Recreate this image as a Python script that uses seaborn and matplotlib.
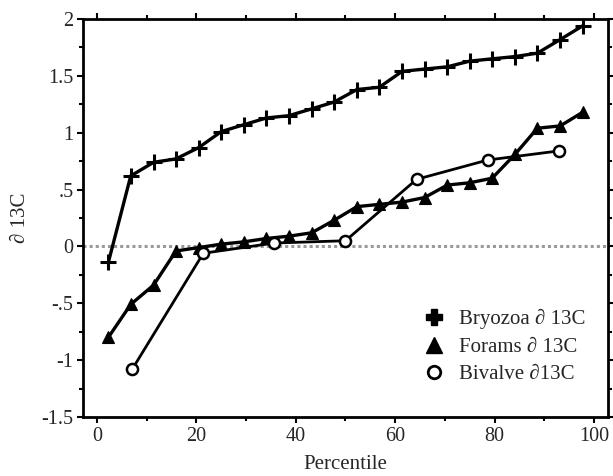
import matplotlib
matplotlib.use("Agg")
import matplotlib.pyplot as plt
import seaborn as sns
import pandas as pd
from matplotlib.lines import Line2D
from matplotlib.ticker import MultipleLocator

# ---- data ----
bryozoa_pct = [2.3, 6.8, 11.4, 15.9, 20.5, 25.0, 29.5, 34.1, 38.6, 43.2, 47.7,
               52.3, 56.8, 61.4, 65.9, 70.5, 75.0, 79.5, 84.1, 88.6, 93.2, 97.7]
bryozoa_d13c = [-0.14, 0.62, 0.74, 0.77, 0.87, 1.01, 1.07, 1.13, 1.15, 1.21, 1.27,
                1.38, 1.40, 1.54, 1.56, 1.58, 1.63, 1.65, 1.67, 1.70, 1.82, 1.94]

forams_pct = [2.3, 6.8, 11.4, 15.9, 20.5, 25.0, 29.5, 34.1, 38.6, 43.2, 47.7,
              52.3, 56.8, 61.4, 65.9, 70.5, 75.0, 79.5, 84.1, 88.6, 93.2, 97.7]
forams_d13c = [-0.80, -0.51, -0.34, -0.04, -0.01, 0.02, 0.04, 0.07, 0.09, 0.12, 0.23,
               0.35, 0.37, 0.39, 0.43, 0.54, 0.56, 0.60, 0.81, 1.04, 1.06, 1.18]

bivalve_pct = [7.1, 21.4, 35.7, 50.0, 64.3, 78.6, 92.9]
bivalve_d13c = [-1.08, -0.06, 0.03, 0.05, 0.59, 0.76, 0.84]

legend_labels = ["Bryozoa \u2202 13C", "Forams \u2202 13C", "Bivalve \u220213C"]

x_ticks = [0, 20, 40, 60, 80, 100]
y_ticks = [-1.5, -1, -0.5, 0, 0.5, 1, 1.5, 2]
y_ticklabels = ["-1.5", "-1", "-.5", "0", ".5", "1", "1.5", "2"]

# ---- style ----
sns.set_style("ticks")
plt.rcParams["font.family"] = ["Liberation Serif", "DejaVu Serif"]

fig = plt.figure(figsize=(6.13, 4.76), dpi=100)
ax = fig.add_axes([0.1354, 0.124, 0.8564, 0.836])

ax.axhline(0, color="#9a9a9a", lw=2.2, ls=(0, (1, 1)), zorder=1)

df_b = pd.DataFrame({"pct": bryozoa_pct, "d": bryozoa_d13c})
df_f = pd.DataFrame({"pct": forams_pct, "d": forams_d13c})
df_v = pd.DataFrame({"pct": bivalve_pct, "d": bivalve_d13c})

sns.lineplot(data=df_b, x="pct", y="d", ax=ax, color="black", lw=2.4,
             marker="+", markersize=11, markeredgewidth=2.2, markeredgecolor="black",
             legend=False, zorder=3)
sns.lineplot(data=df_f, x="pct", y="d", ax=ax, color="black", lw=2.4,
             marker="^", markersize=9, markeredgewidth=0.8, markeredgecolor="black",
             markerfacecolor="black", legend=False, zorder=3)
sns.lineplot(data=df_v, x="pct", y="d", ax=ax, color="black", lw=2.0,
             marker="o", markersize=8, markeredgewidth=1.8, markeredgecolor="black",
             markerfacecolor="white", legend=False, zorder=4)

ax.set_xlim(-2.8, 102.8)
ax.set_ylim(-1.5, 2)
ax.set_xticks(x_ticks)
ax.set_xticklabels([str(t) for t in x_ticks])
ax.set_yticks(y_ticks)
ax.set_yticklabels(y_ticklabels)
ax.xaxis.set_minor_locator(MultipleLocator(10))
ax.yaxis.set_minor_locator(MultipleLocator(0.25))
ax.tick_params(which="both", direction="out", top=True, right=True,
               labeltop=False, labelright=False, color="black", width=1.5)
ax.tick_params(which="major", length=4, labelsize=14.5, pad=3)
ax.tick_params(which="minor", length=3)
for s in ax.spines.values():
    s.set_linewidth(2)
    s.set_color("black")

ax.set_xlabel("Percentile", fontsize=15, labelpad=7)
ax.set_ylabel("\u2202 13C", fontsize=15, labelpad=8)

handles = [
    Line2D([], [], ls="none", marker="P", markersize=11, color="black"),
    Line2D([], [], ls="none", marker="^", markersize=11, color="black"),
    Line2D([], [], ls="none", marker="o", markersize=9, markerfacecolor="white",
           markeredgecolor="black", markeredgewidth=2),
]
ax.legend(handles, legend_labels, loc="lower right", bbox_to_anchor=(0.985, 0.045),
          frameon=False, fontsize=15, handlelength=0.8, handletextpad=0.8,
          labelspacing=0.38, borderpad=0.2)

fig.savefig("out.png", dpi=100)
